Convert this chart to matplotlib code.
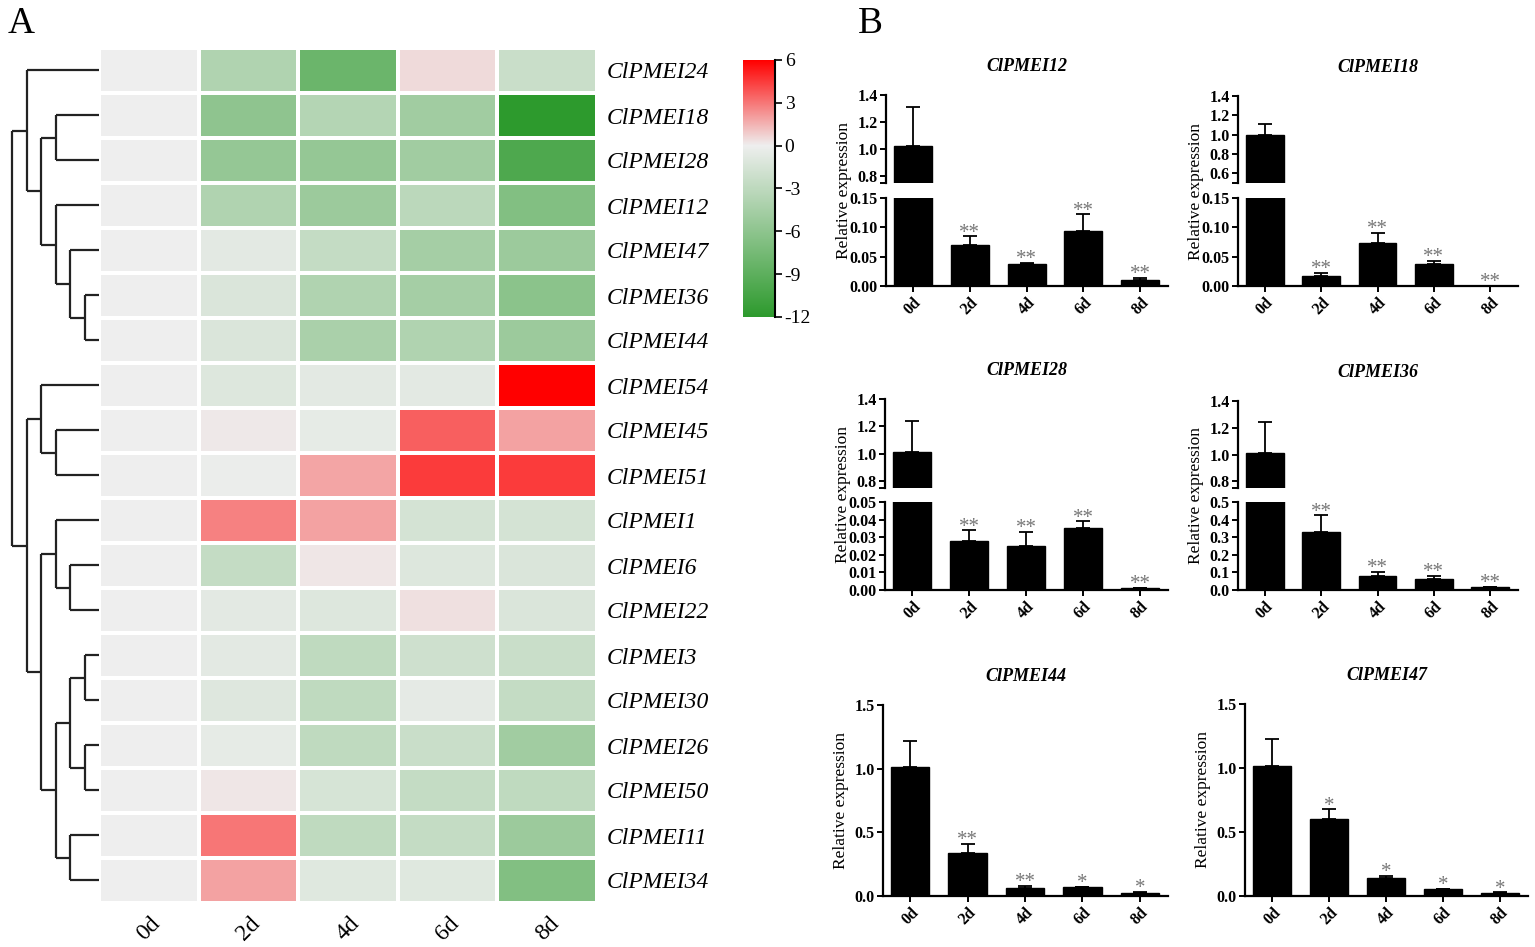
import numpy as np
import matplotlib
matplotlib.use('Agg')
import matplotlib.pyplot as plt
from matplotlib.colors import LinearSegmentedColormap

plt.rcParams['font.family'] = ['Liberation Serif', 'DejaVu Serif']
plt.rcParams['axes.unicode_minus'] = False

W, H = 1535, 947

# ---------------- heatmap data (log2 fold change) ----------------
genes = ['ClPMEI24', 'ClPMEI18', 'ClPMEI28', 'ClPMEI12', 'ClPMEI47', 'ClPMEI36',
         'ClPMEI44', 'ClPMEI54', 'ClPMEI45', 'ClPMEI51', 'ClPMEI1', 'ClPMEI6',
         'ClPMEI22', 'ClPMEI3', 'ClPMEI30', 'ClPMEI26', 'ClPMEI50', 'ClPMEI11',
         'ClPMEI34']
days = ['0d', '2d', '4d', '6d', '8d']
heat = np.array([
    [0, -3.9, -8.1, 0.5, -2.3],
    [0, -5.9, -3.6, -4.8, -12.0],
    [0, -5.5, -5.5, -4.8, -9.9],
    [0, -3.9, -5.1, -3.2, -6.7],
    [0, -0.7, -2.6, -4.5, -5.1],
    [0, -1.3, -3.9, -4.5, -6.1],
    [0, -1.3, -4.2, -3.9, -5.1],
    [0, -1.1, -0.7, -0.7, 6.0],
    [0, 0.1, -0.5, 3.6, 1.9],
    [0, -0.2, 1.8, 4.5, 4.5],
    [0, 2.7, 1.9, -1.6, -1.6],
    [0, -2.6, 0.2, -1.1, -1.3],
    [0, -0.7, -1.1, 0.35, -1.3],
    [0, -0.7, -2.9, -2.0, -2.3],
    [0, -1.0, -2.9, -0.6, -2.6],
    [0, -0.5, -2.9, -2.3, -4.8],
    [0, 0.2, -1.5, -2.6, -2.9],
    [0, 3.0, -2.9, -2.6, -5.1],
    [0, 1.9, -0.9, -0.9, -6.7],
])
cbar_ticks = [6, 3, 0, -3, -6, -9, -12]

# row dendrogram: (merge level, left, right), leaves are row indices
tree = (6,
        (5, 0, (4, (3, 1, 2), (3, 3, (2, 4, (1, 5, 6))))),
        (5, (4, 7, (3, 8, 9)),
            (4, (3, 10, (2, 11, 12)),
                (3, (2, (1, 13, 14), (1, 15, 16)), (2, 17, 18)))))

# ---------------- qRT-PCR bar data ----------------
bar_genes = ['ClPMEI12', 'ClPMEI18', 'ClPMEI28', 'ClPMEI36', 'ClPMEI44', 'ClPMEI47']
means = [
    [1.02, 0.070, 0.037, 0.093, 0.011],
    [1.00, 0.017, 0.073, 0.037, 0.0005],
    [1.015, 0.0277, 0.025, 0.0355, 0.001],
    [1.015, 0.33, 0.080, 0.062, 0.015],
    [1.015, 0.335, 0.065, 0.068, 0.027],
    [1.015, 0.60, 0.140, 0.052, 0.027],
]
errs = [
    [0.29, 0.015, 0.003, 0.029, 0.003],
    [0.11, 0.005, 0.018, 0.006, 0.0],
    [0.225, 0.0063, 0.008, 0.0035, 0.0004],
    [0.225, 0.095, 0.025, 0.018, 0.003],
    [0.205, 0.073, 0.015, 0.004, 0.005],
    [0.215, 0.078, 0.018, 0.006, 0.003],
]
stars = [
    ['', '**', '**', '**', '**'],
    ['', '**', '**', '**', '**'],
    ['', '**', '**', '**', '**'],
    ['', '**', '**', '**', '**'],
    ['', '**', '**', '*', '*'],
    ['', '*', '*', '*', '*'],
]
# (bottom ylim, bottom ticks, bottom fmt, top ylim, top ticks) ; None = no break
axis_cfg = [
    ((0, 0.15), [0, 0.05, 0.10, 0.15], '%.2f', (0.75, 1.4), [0.8, 1.0, 1.2, 1.4]),
    ((0, 0.15), [0, 0.05, 0.10, 0.15], '%.2f', (0.5, 1.4), [0.6, 0.8, 1.0, 1.2, 1.4]),
    ((0, 0.05), [0, 0.01, 0.02, 0.03, 0.04, 0.05], '%.2f', (0.75, 1.4), [0.8, 1.0, 1.2, 1.4]),
    ((0, 0.5), [0, 0.1, 0.2, 0.3, 0.4, 0.5], '%.1f', (0.75, 1.4), [0.8, 1.0, 1.2, 1.4]),
    ((0, 1.5), [0, 0.5, 1.0, 1.5], '%.1f', None, None),
    ((0, 1.5), [0, 0.5, 1.0, 1.5], '%.1f', None, None),
]
# pixel boxes: x0, x1, top segment (y0, y1), bottom segment (y0, y1)
boxes = [
    (886, 1168, (95, 183), (198, 286)),
    (1238, 1518, (96, 183), (198, 286)),
    (885, 1168, (399, 488), (502, 590)),
    (1238, 1518, (401, 488), (502, 590)),
    (883, 1168, None, (705, 896)),
    (1245, 1528, None, (704, 896)),
]


def px_axes(fig, x0, y0, x1, y1):
    return fig.add_axes([x0 / W, 1 - y1 / H, (x1 - x0) / W, (y1 - y0) / H])


def draw_tree(ax, node):
    if isinstance(node, int):
        return node + 0.5, 0
    lvl, a, b = node
    ya, la = draw_tree(ax, a)
    yb, lb = draw_tree(ax, b)
    kw = dict(color='#222222', lw=1.6, solid_capstyle='butt')
    ax.plot([la, lvl], [ya, ya], **kw)
    ax.plot([lb, lvl], [yb, yb], **kw)
    ax.plot([lvl, lvl], [ya, yb], **kw)
    return (ya + yb) / 2, lvl


fig = plt.figure(figsize=(W / 100, H / 100), dpi=100)

# ---------------- panel A ----------------
cmap = LinearSegmentedColormap.from_list(
    'gr', [(0, '#2d9a2d'), (12 / 18, '#eeeeee'), (1, '#ff0000')])
axh = px_axes(fig, 99, 48, 597, 903)
mesh = axh.pcolormesh(np.arange(len(days) + 1), np.arange(len(genes) + 1), heat,
                      cmap=cmap, vmin=-12, vmax=6, edgecolors='white', linewidth=1.5)
axh.set_ylim(len(genes), 0)
axh.set_xlim(0, len(days))
for s in axh.spines.values():
    s.set_visible(False)
axh.yaxis.tick_right()
axh.set_yticks(np.arange(len(genes)) + 0.5)
axh.set_yticklabels(genes, fontsize=17, style='italic')
axh.set_xticks(np.arange(len(days)) + 0.5)
axh.set_xticklabels(days, fontsize=17, rotation=45, ha='center', va='top')
axh.tick_params(length=0, pad=7)

axd = px_axes(fig, 0, 48, 99, 903)
draw_tree(axd, tree)
axd.set_xlim(6.85, 0)
axd.set_ylim(len(genes), 0)
axd.axis('off')

cax = px_axes(fig, 743, 60, 775, 317)
cb = fig.colorbar(mesh, cax=cax, ticks=cbar_ticks)
cb.outline.set_visible(False)
cax.plot([1, 1], [-12, 6], color='black', lw=1.5, clip_on=False)
cax.tick_params(labelsize=14, length=5, width=1.2, pad=2)

fig.text(8 / W, 1 - 33 / H, 'A', fontsize=27)
fig.text(858 / W, 1 - 33 / H, 'B', fontsize=27)

# ---------------- panel B ----------------
x = np.arange(len(days))


def style_ax(ax):
    ax.spines['top'].set_visible(False)
    ax.spines['right'].set_visible(False)
    ax.spines['left'].set_linewidth(1.6)
    ax.spines['bottom'].set_linewidth(1.6)
    ax.tick_params(direction='out', length=4, width=1.4, labelsize=11.5, pad=2)
    for lab in ax.get_yticklabels():
        lab.set_fontweight('bold')
    ax.set_xlim(-0.475, 4.49)


def draw_bars(ax, m, e):
    ax.bar(x, m, width=0.67, color='black', edgecolor='black')
    ax.errorbar(x, m, yerr=[np.zeros(len(m)), e], fmt='none', ecolor='black',
                elinewidth=1.3, capsize=5, capthick=1.3)


for k, g in enumerate(bar_genes):
    x0, x1, top_box, bot_box = boxes[k]
    bl, bt, bfmt, tl, tt = axis_cfg[k]
    m = np.array(means[k])
    e = np.array(errs[k])

    axb = px_axes(fig, x0, bot_box[0], x1, bot_box[1])
    draw_bars(axb, m, e)
    axb.set_ylim(*bl)
    axb.set_yticks(bt)
    axb.set_yticklabels([bfmt % t for t in bt])
    axb.set_xticks(x)
    axb.set_xticklabels(days, rotation=45, fontweight='bold', fontsize=11.5)
    style_ax(axb)
    for lab in axb.get_xticklabels():
        lab.set_fontweight('bold')

    if top_box is not None:
        axt = px_axes(fig, x0, top_box[0], x1, top_box[1])
        draw_bars(axt, m, e)
        axt.set_ylim(*tl)
        axt.set_yticks(tt)
        axt.set_yticklabels(['%.1f' % t for t in tt])
        axt.set_yticks([tl[0]], minor=True)
        axt.tick_params(axis='y', which='minor', length=4, width=1.4)
        axt.set_xticks([])
        style_ax(axt)
        axt.spines['bottom'].set_visible(False)
        title_ax = axt
        ytop = top_box[0]
    else:
        title_ax = axb
        ytop = bot_box[0]
    title_ax.set_title(g, fontsize=13, fontweight='bold', style='italic', pad=17)

    # significance marks
    for i in range(len(days)):
        if not stars[k][i]:
            continue
        yv = m[i] + e[i]
        tgt = axb if yv <= bl[1] else axt
        tgt.annotate(stars[k][i], (i, yv), xytext=(0, -1), textcoords='offset points',
                     ha='center', va='baseline', fontsize=15, color='#777777',
                     annotation_clip=False)

    ymid = (ytop + bot_box[1]) / 2
    fig.text((x0 - 42) / W, 1 - ymid / H, 'Relative expression', rotation=90,
             ha='center', va='center', fontsize=12.5)

fig.savefig('out.png', dpi=100)
